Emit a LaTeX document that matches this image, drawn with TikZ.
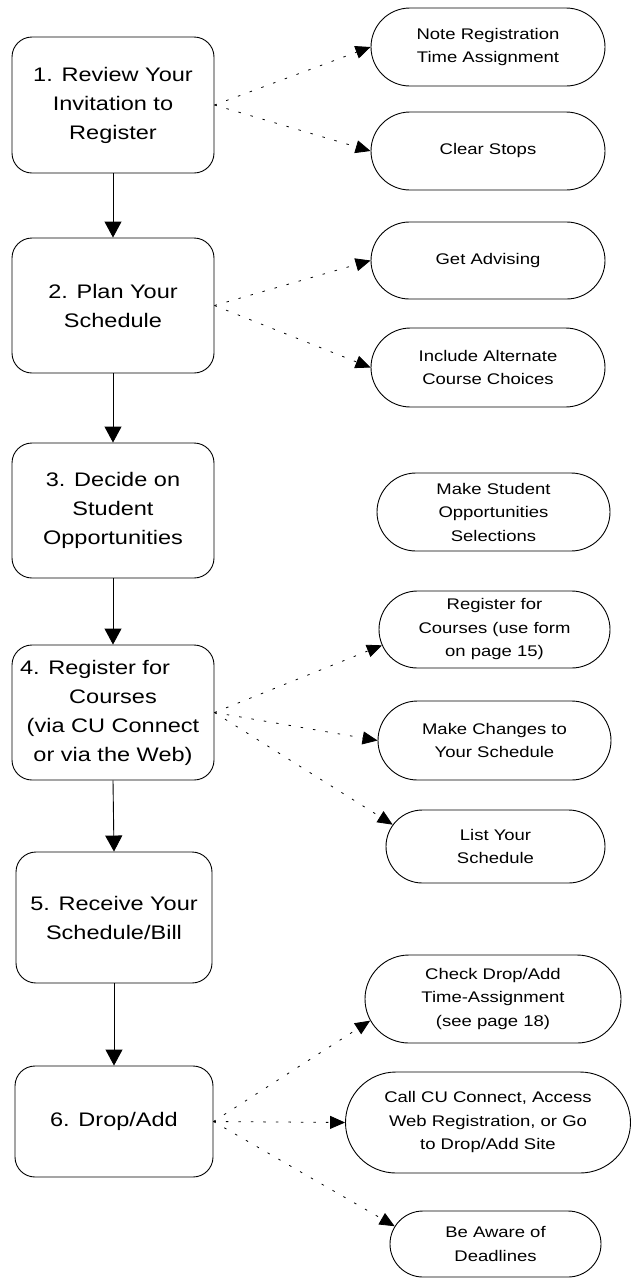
\documentclass[tikz,border=0pt]{standalone}
\usepackage{fontspec}
\setmainfont{Liberation Sans}[FakeStretch=1.2]
\usetikzlibrary{arrows.meta,shapes.misc}

\begin{document}
\begin{tikzpicture}[x=1pt, y=-1pt, line width=.9pt,
  stage/.style={draw, rounded corners=20pt, minimum width=202pt, inner sep=0pt,
    align=center, font=\fontsize{19.6}{29}\selectfont},
  task/.style={draw, rounded rectangle, inner xsep=-10pt, inner ysep=0pt,
    align=center, font=\fontsize{15.4}{23.5}\selectfont},
  flow/.style={-{Triangle[length=16pt,width=17pt]}},
  hint/.style={line width=.8pt, dash pattern=on 2.5pt off 10pt,
    -{Triangle[length=15pt,width=13pt]}}]
  \useasboundingbox (0,0) rectangle (632,1278);
  % main steps
  \node[stage, minimum height=136pt] (s1) at (113,105) {1. Review Your\\Invitation to\\Register};
  \node[stage, minimum height=135pt] (s2) at (113,305.5) {2. Plan Your\\Schedule};
  \node[stage, minimum height=135pt] (s3) at (113,510.5) {3. Decide on\\Student\\Opportunities};
  \node[stage, minimum height=135pt] (s4) at (113,712.5) {4. Register for\hspace*{36pt}\\Courses\\(via CU Connect\\or via the Web)};
  \node[stage, minimum height=131pt, minimum width=196pt] (s5) at (114,917.5) {5. Receive Your\\Schedule/Bill};
  \node[stage, minimum height=111pt, minimum width=198pt] (s6) at (114,1121.5) {6. Drop/Add};
  % side tasks
  \node[task, minimum width=214pt, minimum height=78pt] (t1) at (488,47) {Note Registration\\Time Assignment};
  \node[task, minimum width=214pt, minimum height=78pt] (t2) at (488,151) {Clear Stops};
  \node[task, minimum width=214pt, minimum height=77pt] (t3) at (488,260.5) {Get Advising};
  \node[task, minimum width=214pt, minimum height=79pt] (t4) at (488,367.5) {Include Alternate\\Course Choices};
  \node[task, minimum width=213pt, minimum height=78pt] (t5) at (493.5,512) {Make Student\\Opportunities\\Selections};
  \node[task, minimum width=211pt, minimum height=77pt] (t6) at (494.5,629.5) {Register for\\Courses (use form\\on page 15)};
  \node[task, minimum width=213pt, minimum height=79pt] (t7) at (494.5,740.5) {Make Changes to\\Your Schedule};
  \node[task, minimum width=199pt, minimum height=73pt] (t8) at (495.5,846.5) {List Your\\Schedule};
  \node[task, minimum width=236pt, minimum height=88pt] (t9) at (493,999) {Check Drop/Add\\Time-Assignment\\(see page 18)};
  \node[task, minimum width=265pt, minimum height=101pt] (t10) at (488,1122.5) {Call CU Connect, Access\\Web Registration, or Go\\to Drop/Add Site};
  \node[task, minimum width=191pt, minimum height=66pt] (t11) at (495.5,1244) {Be Aware of\\Deadlines};
  % connectors
  \foreach \a/\b in {s1/s2, s2/s3, s3/s4, s4/s5, s5/s6}
    \draw[flow] (\a.south) -- (\b.north);
  \foreach \a/\b in {s1/t1.west, s1/t2.west, s2/t3.west, s2/t4.west,
                     s4/t6.188, s4/t7.west, s4/t8.168,
                     s6/t9.190, s6/t10.west, s6/t11.170}
    \draw[hint] (\a.east) -- (\b);
\end{tikzpicture}
\end{document}
